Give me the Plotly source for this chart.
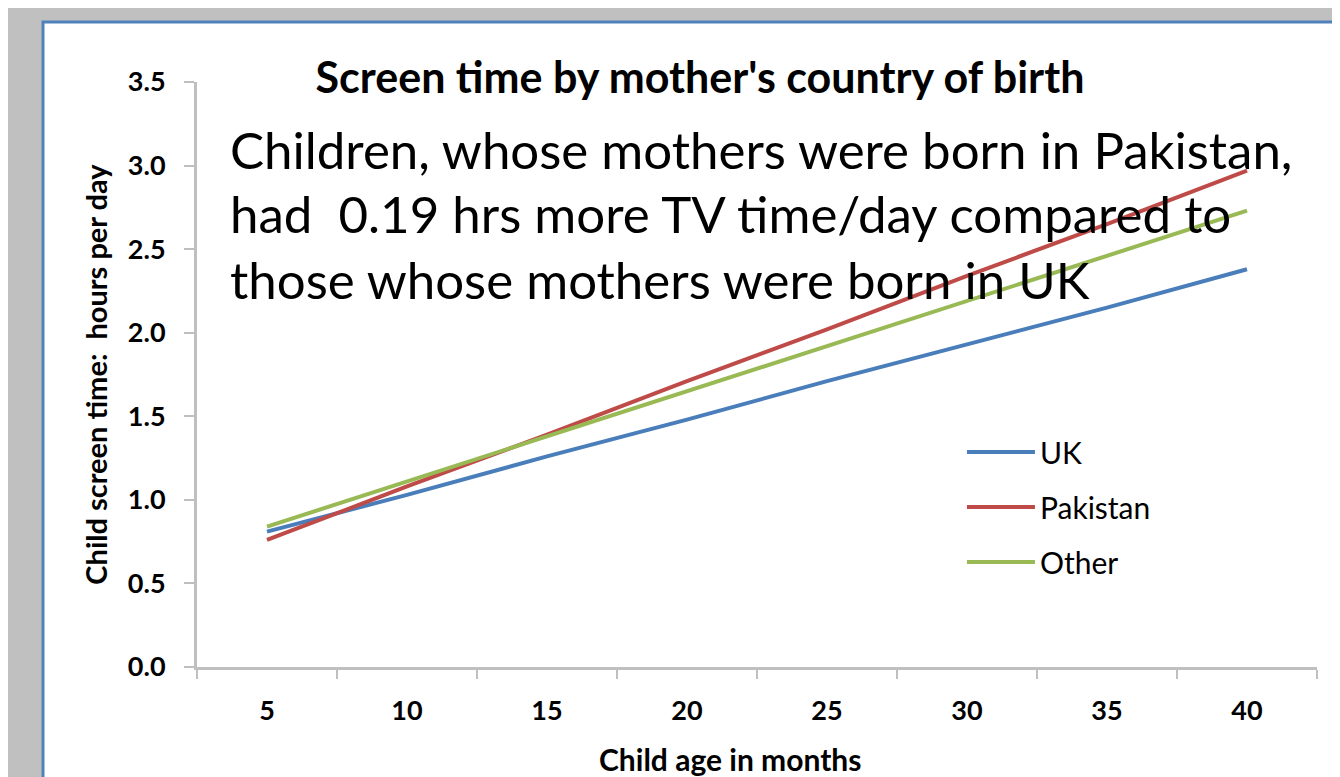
"""Screen time by mother's country of birth - line chart recreated in Plotly."""
import plotly.graph_objects as go

# ---- data -------------------------------------------------------------
ages = ["5", "10", "15", "20", "25", "30", "35", "40"]
uk = [0.81, 1.03, 1.26, 1.48, 1.71, 1.93, 2.15, 2.38]
pakistan = [0.76, 1.08, 1.39, 1.71, 2.02, 2.34, 2.65, 2.97]
other = [0.84, 1.11, 1.38, 1.65, 1.92, 2.19, 2.46, 2.73]

y_ticks = [0.0, 0.5, 1.0, 1.5, 2.0, 2.5, 3.0, 3.5]

note_lines = [
    "Children, whose mothers were born in Pakistan,",
    "had  0.19 hrs more TV time/day compared to",
    "those whose mothers were born in UK",
]

SERIES = [
    ("UK", uk, "#4a7ebb"),
    ("Pakistan", pakistan, "#be4b48"),
    ("Other", other, "#98b954"),
]

FONT = "Lato, Liberation Sans, Arial, sans-serif"

# page body has an 8px margin, so the figure is sized to fit the window
W, H = 1332, 769

fig = go.Figure()
for name, vals, color in SERIES:
    fig.add_trace(go.Scatter(
        x=ages, y=vals, name=name, mode="lines",
        line=dict(color=color, width=4),
        legendgroup=name,
    ))

# white chart panel with blue top/left border, sitting on grey backdrop
fig.add_shape(type="rect", xref="paper", yref="paper",
              x0=-0.1375, x1=1.08, y0=-0.25, y1=1.1026,
              fillcolor="white", line=dict(color="#4f81bd", width=3),
              layer="below")

note_y = [0.885, 0.775, 0.663]
for text, yy in zip(note_lines, note_y):
    fig.add_annotation(
        text=text, xref="paper", yref="paper", x=0.0277, y=yy,
        xanchor="left", yanchor="middle", showarrow=False,
        font=dict(family=FONT, size=51, color="black"),
    )

# x-axis title sits a little left of the plot centre in the original
fig.add_annotation(
    text="<b>Child age in months</b>", xref="paper", yref="paper",
    x=0.476, y=-0.157, xanchor="center", yanchor="middle", showarrow=False,
    font=dict(family=FONT, size=30, color="black"),
)

axis_col = "#bfbfbf"
fig.update_layout(
    width=W, height=H,
    margin=dict(l=189, r=23, t=74, b=110, autoexpand=False),
    paper_bgcolor="#c0c0c0",
    plot_bgcolor="white",
    font=dict(family=FONT, color="black"),
    title=dict(
        text="<b>Screen time by mother's country of birth</b>",
        x=692 / W, xanchor="center", y=1 - 70 / H, yanchor="middle",
        font=dict(family=FONT, size=43, color="black"),
    ),
    showlegend=True,
    legend=dict(
        x=0.683, xanchor="left",
        y=0.412, yanchor="top",
        bgcolor="rgba(0,0,0,0)",
        font=dict(family=FONT, size=30, color="black"),
        tracegroupgap=13,
        itemwidth=68,
    ),
    xaxis=dict(
        type="category",
        range=[-0.5, 7.5],
        tickson="boundaries",
        ticks="outside", ticklen=9, tickwidth=2, tickcolor=axis_col,
        showline=True, linecolor=axis_col, linewidth=3,
        showgrid=False, zeroline=False, automargin=False,
        tickfont=dict(family=FONT, size=27, color="black", weight="bold"),
        ticklabelstandoff=18,
    ),
    yaxis=dict(
        range=[0, 3.5],
        tickvals=y_ticks,
        tickformat=".1f",
        ticks="outside", ticklen=10, tickwidth=2, tickcolor=axis_col,
        showline=True, linecolor=axis_col, linewidth=3,
        showgrid=False, zeroline=False, automargin=False,
        tickfont=dict(family=FONT, size=27, color="black", weight="bold"),
        ticklabelstandoff=13,
        title=dict(text="<b>Child screen time:  hours per day</b>", standoff=12,
                   font=dict(family=FONT, size=29, color="black")),
    ),
)

fig.write_html("out.html")
